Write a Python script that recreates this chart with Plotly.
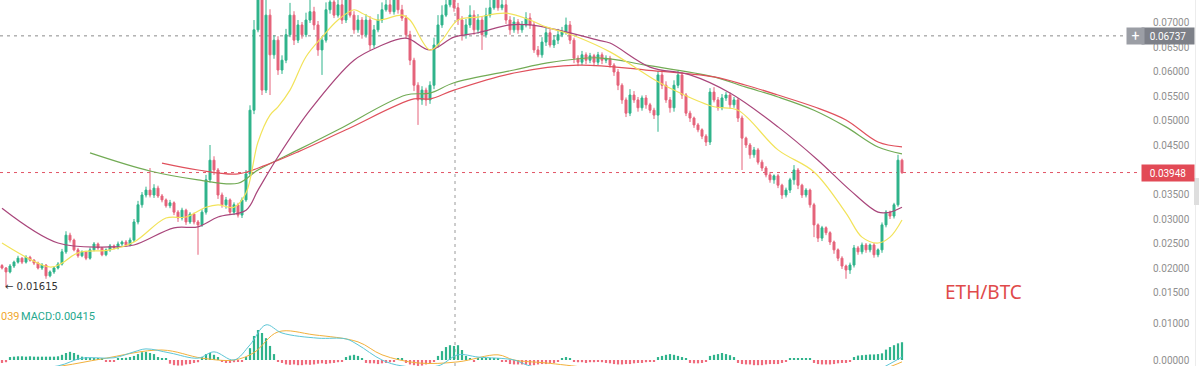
import plotly.graph_objects as go

# ---------------- data ----------------
closes = [
    0.0200, 0.0192, 0.0204, 0.0212, 0.0220, 0.0212, 0.0222, 0.0216, 0.0210, 0.0200,
    0.0206, 0.0184, 0.0192, 0.0200, 0.0208, 0.0233, 0.0267, 0.0257, 0.0237, 0.0225,
    0.0233, 0.0220, 0.0237, 0.0249, 0.0241, 0.0227, 0.0237, 0.0245, 0.0241, 0.0249,
    0.0253, 0.0247, 0.0257, 0.0294, 0.0329, 0.0349, 0.0359, 0.0349, 0.0363, 0.0347,
    0.0339, 0.0327, 0.0333, 0.0314, 0.0302, 0.0318, 0.0294, 0.0310, 0.0294, 0.0288,
    0.0314, 0.0380, 0.0420, 0.0400, 0.0349, 0.0329, 0.0339, 0.0314, 0.0329, 0.0308,
    0.0339, 0.0392, 0.0522, 0.0686, 0.0760, 0.0563, 0.0716, 0.0635, 0.0665, 0.0604,
    0.0624, 0.0676, 0.0716, 0.0665, 0.0696, 0.0676, 0.0706, 0.0723, 0.0696, 0.0645,
    0.0665, 0.0727, 0.0743, 0.0716, 0.0737, 0.0706, 0.0758, 0.0716, 0.0686, 0.0706,
    0.0676, 0.0706, 0.0655, 0.0686, 0.0706, 0.0727, 0.0737, 0.0723, 0.0752, 0.0727,
    0.0710, 0.0676, 0.0624, 0.0573, 0.0543, 0.0563, 0.0543, 0.0573, 0.0655, 0.0696,
    0.0716, 0.0737, 0.0762, 0.0731, 0.0706, 0.0676, 0.0696, 0.0716, 0.0686, 0.0706,
    0.0676, 0.0716, 0.0731, 0.0755, 0.0731, 0.0737, 0.0706, 0.0686, 0.0702, 0.0686,
    0.0696, 0.0710, 0.0696, 0.0645, 0.0635, 0.0661, 0.0680, 0.0655, 0.0665, 0.0676,
    0.0682, 0.0696, 0.0665, 0.0628, 0.0620, 0.0635, 0.0624, 0.0633, 0.0620, 0.0635,
    0.0624, 0.0628, 0.0614, 0.0600, 0.0573, 0.0543, 0.0516, 0.0553, 0.0543, 0.0527,
    0.0547, 0.0533, 0.0522, 0.0512, 0.0594, 0.0573, 0.0543, 0.0527, 0.0573, 0.0594,
    0.0553, 0.0516, 0.0506, 0.0492, 0.0482, 0.0469, 0.0457, 0.0559, 0.0543, 0.0527,
    0.0547, 0.0553, 0.0533, 0.0543, 0.0506, 0.0465, 0.0451, 0.0431, 0.0441, 0.0416,
    0.0404, 0.0390, 0.0380, 0.0388, 0.0369, 0.0349, 0.0359, 0.0380, 0.0400, 0.0369,
    0.0349, 0.0359, 0.0329, 0.0288, 0.0261, 0.0282, 0.0272, 0.0253, 0.0237, 0.0220,
    0.0204, 0.0196, 0.0206, 0.0241, 0.0233, 0.0247, 0.0237, 0.0247, 0.0227, 0.0237,
    0.0288, 0.0314, 0.0306, 0.0329, 0.0420, 0.03948,
]
first_open = 0.0205

# wick lengths above / below the body, in units of 0.0001
upper_e4 = [
    3, 2, 4, 3, 5, 2, 4, 3, 2, 3,
    4, 2, 3, 3, 4, 6, 8, 5, 3, 4,
    3, 2, 5, 4, 3, 2, 3, 4, 3, 5,
    3, 4, 5, 6, 8, 6, 7, 45, 8, 5,
    4, 3, 6, 3, 4, 5, 3, 4, 3, 4,
    6, 10, 31, 8, 4, 5, 6, 3, 5, 4,
    5, 8, 10, 20, 30, 10, 50, 12, 10, 8,
    10, 12, 25, 8, 10, 6, 15, 30, 10, 8,
    8, 15, 35, 10, 30, 12, 40, 15, 8, 10,
    6, 12, 8, 10, 12, 15, 30, 10, 35, 12,
    10, 6, 8, 5, 6, 8, 5, 8, 15, 20,
    20, 30, 40, 15, 10, 8, 12, 20, 10, 12,
    8, 15, 20, 30, 15, 25, 10, 8, 10, 6,
    8, 12, 10, 6, 8, 10, 12, 8, 10, 12,
    10, 15, 8, 5, 6, 8, 5, 6, 4, 6,
    5, 6, 5, 4, 6, 4, 5, 12, 8, 6,
    5, 6, 4, 5, 8, 10, 8, 6, 10, 8,
    6, 4, 5, 3, 4, 3, 4, 8, 10, 6,
    8, 6, 5, 6, 4, 5, 3, 4, 6, 4,
    5, 4, 6, 3, 4, 3, 5, 4, 10, 4,
    3, 4, 3, 4, 3, 4, 3, 3, 3, 3,
    4, 3, 5, 6, 4, 5, 4, 3, 4, 3,
    5, 4, 3, 4, 11, 3,
]
lower_e4 = [
    3, 31, 3, 4, 3, 4, 3, 3, 4, 3,
    4, 6, 3, 4, 3, 3, 4, 5, 3, 4,
    3, 4, 3, 3, 4, 3, 3, 4, 3, 3,
    4, 3, 3, 4, 5, 6, 5, 5, 6, 4,
    5, 4, 5, 6, 8, 5, 6, 4, 5, 61,
    4, 5, 6, 10, 8, 6, 8, 5, 6, 5,
    6, 4, 5, 8, 5, 10, 6, 82, 8, 10,
    8, 6, 5, 10, 6, 8, 5, 6, 10, 12,
    51, 5, 8, 6, 5, 8, 6, 5, 8, 6,
    8, 6, 10, 6, 5, 6, 4, 5, 6, 8,
    6, 8, 10, 12, 51, 10, 12, 8, 8, 5,
    6, 4, 5, 8, 10, 12, 8, 6, 10, 8,
    31, 6, 5, 4, 6, 5, 8, 10, 6, 8,
    6, 5, 8, 6, 5, 6, 8, 5, 6, 8,
    5, 6, 8, 10, 8, 6, 8, 6, 8, 6,
    8, 6, 5, 8, 10, 8, 8, 6, 6, 8,
    6, 8, 6, 8, 34, 8, 6, 10, 8, 6,
    8, 6, 8, 6, 5, 6, 8, 6, 5, 6,
    5, 6, 8, 6, 8, 65, 6, 8, 6, 5,
    6, 5, 6, 8, 6, 8, 5, 6, 10, 8,
    6, 5, 6, 25, 8, 6, 5, 6, 8, 6,
    6, 18, 8, 5, 6, 5, 6, 5, 6, 5,
    6, 5, 6, 5, 4, 3,
]

# moving averages (sampled along the curves)
ma_yellow_idx = [0, 12, 15, 19, 27, 33, 41, 46, 51, 54, 58, 61, 64, 67, 69, 72, 76, 80, 84, 88,
                 90, 94, 100, 102, 107, 110, 114, 119, 126, 132, 136, 140, 144, 152, 164, 169,
                 178, 184, 194, 203, 211, 215, 219, 222, 225]
ma_yellow_val = [0.0251, 0.0202, 0.0210, 0.0231, 0.0237, 0.0253, 0.0302, 0.0304, 0.0324, 0.0329,
                 0.0324, 0.0353, 0.0457, 0.0512, 0.0529, 0.0563, 0.0631, 0.0671, 0.0706, 0.0727,
                 0.0720, 0.0706, 0.0716, 0.0706, 0.0645, 0.0665, 0.0706, 0.0712, 0.0720, 0.0706,
                 0.0692, 0.0682, 0.0671, 0.0641, 0.0580, 0.0559, 0.0529, 0.0522, 0.0441, 0.0396,
                 0.0312, 0.0263, 0.0251, 0.0263, 0.0298]

ma_purple_idx = [0, 14, 27, 33, 43, 49, 54, 61, 64, 69, 77, 88, 94, 101, 107, 113, 119, 127,
                 132, 141, 149, 152, 162, 172, 182, 194, 204, 212, 219, 222, 225]
ma_purple_val = [0.0322, 0.0251, 0.0243, 0.0247, 0.0282, 0.0284, 0.0304, 0.0318, 0.0359, 0.0427,
                 0.0522, 0.0624, 0.0651, 0.0669, 0.0645, 0.0671, 0.0680, 0.0696, 0.0696, 0.0682,
                 0.0665, 0.0659, 0.0610, 0.0594, 0.0557, 0.0488, 0.0420, 0.0359, 0.0314, 0.0314,
                 0.0324]

ma_green_idx = [22, 37, 49, 59, 64, 74, 84, 101, 107, 113, 128, 136, 149, 161, 178, 186, 194,
                203, 211, 219, 225]
ma_green_val = [0.0435, 0.0398, 0.0380, 0.0373, 0.0400, 0.0441, 0.0482, 0.0553, 0.0557, 0.0578,
                0.0604, 0.0618, 0.0629, 0.0614, 0.0590, 0.0569, 0.0549, 0.0522, 0.0488, 0.0447,
                0.0433]

ma_red_idx = [40, 49, 59, 66, 74, 86, 103, 107, 113, 128, 144, 161, 178, 186, 194, 203, 211,
              219, 225]
ma_red_val = [0.0414, 0.0400, 0.0392, 0.0410, 0.0437, 0.0482, 0.0545, 0.0545, 0.0563, 0.0598,
              0.0614, 0.0604, 0.0590, 0.0573, 0.0553, 0.0529, 0.0502, 0.0457, 0.0447]

# MACD histogram, units of 0.0001
macd_hist_e4 = [
    -8, -6, 8, 9, 10, 10, 9, 10, 9, 9,
    9, 9, 9, 9, 10, 14, 19, 22, 19, 14,
    9, 8, 6, 5, 5, 3, -3, -3, -3, 3,
    5, 6, 8, 11, 16, 21, 22, 19, 16, 8,
    5, 3, -10, -14, -15, -15, -12, -11, -8, -6,
    8, 16, 19, 14, 8, -5, -8, -8, -6, -5,
    -3, 8, 32, 65, 81, 73, 59, 38, 16, -5,
    -8, -12, -13, -12, -14, -14, -12, -13, -12, -10,
    -9, -11, -9, -8, -6, -5, 8, 12, 14, 11,
    5, -8, -9, -9, -11, -9, -8, -6, -5, 3,
    3, -8, -12, -14, -16, -15, -12, -9, -5, 11,
    24, 35, 40, 38, 40, 27, 11, 5, -3, 3,
    3, 5, 3, 3, 3, -3, -3, -11, -12, -12,
    -12, -13, -14, -14, -12, -11, -11, -9, -8, -5,
    5, 8, 5, -5, -6, -6, -8, -6, -6, -5,
    -6, -8, -9, -11, -12, -12, -11, -11, -9, -8,
    -8, -6, -5, -3, 8, 11, 14, 16, 14, 11,
    8, 5, -8, -9, -9, -8, -5, 11, 14, 16,
    19, 16, 13, 8, -8, -11, -12, -12, -14, -14,
    -14, -12, -11, -11, -11, -8, -5, 3, 5, 5,
    3, 3, 3, -8, -11, -12, -12, -12, -11, -9,
    -8, -8, -5, 8, 12, 13, 14, 15, 15, 16,
    18, 28, 35, 40, 45, 48,
]

dif_idx = [0, 14, 20, 28, 33, 36, 42, 49, 53, 58, 62, 66, 70, 79, 86, 89, 95, 100, 109, 114,
           119, 128, 132, 150, 170, 190, 205, 215, 221, 225]
dif_val = [-0.0030, -0.0016, 0.0005, 0.0006, 0.0022, 0.0030, 0.0019, 0.0005, 0.0022, 0.0000,
           0.0041, 0.0095, 0.0073, 0.0059, 0.0057, 0.0041, 0.0000, -0.0016, -0.0016, 0.0014,
           0.0008, 0.0000, -0.0016, -0.0040, -0.0035, -0.0050, -0.0070, -0.0050, -0.0016, 0.0008]

dea_idx = [0, 15, 25, 40, 50, 58, 63, 69, 78, 89, 95, 104, 114, 124, 128, 136, 160, 190, 210,
           223, 225]
dea_val = [-0.0035, -0.0016, 0.0003, 0.0027, 0.0005, 0.0000, 0.0020, 0.0076, 0.0068, 0.0049,
           0.0014, -0.0008, -0.0005, 0.0014, 0.0000, -0.0008, -0.0035, -0.0045, -0.0060,
           -0.0014, -0.0005]

# 0.04000 sits under the last-price box in the reference, so it is not shown
price_ticks = [0.015, 0.020, 0.025, 0.030, 0.035, 0.045, 0.050, 0.055, 0.060, 0.065, 0.070, 0.075]
macd_ticks = [0.0, 0.01]
last_price = 0.03948
marked_price = 0.06737
low_price = 0.01615
crosshair_idx = 113.25

# ---------------- styling ----------------
GREEN = "#2fb38b"
RED = "#e5637a"
W, H = 1199, 366
PLOT_W = 1140
SPLIT = 61 / 366

opens = [first_open] + closes[:-1]
highs = [max(o, c) + u / 1e4 for o, c, u in zip(opens, closes, upper_e4)]
lows = [min(o, c) - l / 1e4 for o, c, l in zip(opens, closes, lower_e4)]
idx = list(range(len(closes)))
hist = [v / 1e4 for v in macd_hist_e4]

fig = go.Figure()

fig.add_trace(go.Candlestick(
    x=idx, open=opens, high=highs, low=lows, close=closes,
    increasing=dict(line=dict(color=GREEN, width=1), fillcolor=GREEN),
    decreasing=dict(line=dict(color=RED, width=1), fillcolor=RED),
    whiskerwidth=0, hoverinfo="skip", xaxis="x", yaxis="y"))

for xs, ys, col in [
    (ma_green_idx, ma_green_val, "#72ab55"),
    (ma_red_idx, ma_red_val, "#e0505c"),
    (ma_purple_idx, ma_purple_val, "#a9467b"),
    (ma_yellow_idx, ma_yellow_val, "#f2e35a"),
]:
    fig.add_trace(go.Scatter(x=xs, y=ys, mode="lines", hoverinfo="skip",
                             line=dict(color=col, width=1.2, shape="spline", smoothing=1.0),
                             xaxis="x", yaxis="y"))

fig.add_trace(go.Bar(x=idx, y=hist, width=0.55, hoverinfo="skip",
                     marker=dict(color=[GREEN if v >= 0 else "#ef6b7c" for v in hist], line=dict(width=0)),
                     xaxis="x", yaxis="y2"))
fig.add_trace(go.Scatter(x=dea_idx, y=dea_val, mode="lines", hoverinfo="skip",
                         line=dict(color="#f2b13c", width=1, shape="spline", smoothing=1.0),
                         xaxis="x", yaxis="y2"))
fig.add_trace(go.Scatter(x=dif_idx, y=dif_val, mode="lines", hoverinfo="skip",
                         line=dict(color="#5cc6d6", width=1, shape="spline", smoothing=1.0),
                         xaxis="x", yaxis="y2"))

tickfont = dict(size=10, color="#8f8f8f", family="Roboto")

fig.update_layout(
    width=W, height=H, margin=dict(l=0, r=W - PLOT_W, t=0, b=0),
    paper_bgcolor="white", plot_bgcolor="white", showlegend=False, hovermode=False,
    xaxis=dict(range=[-0.5, 284.5], showgrid=False, zeroline=False, showticklabels=False,
               showline=False, ticks="", rangeslider=dict(visible=False), fixedrange=True),
    yaxis=dict(domain=[SPLIT, 1], range=[0.01245, 0.07469], side="right", anchor="x",
               tickvals=price_ticks, ticktext=[f"{v:.5f}" for v in price_ticks],
               showgrid=False, zeroline=False, showline=False, ticks="",
               tickfont=tickfont, ticklabelstandoff=12, ticklabeloverflow="allow"),
    yaxis2=dict(domain=[0, SPLIT], range=[-0.001622, 0.014865], side="right", anchor="x",
                tickvals=macd_ticks, ticktext=[f"{v:.5f}" for v in macd_ticks],
                showgrid=False, zeroline=False, showline=False, ticks="",
                tickfont=tickfont, ticklabelstandoff=12, ticklabeloverflow="allow"),
)

shapes = [
    dict(type="line", xref="paper", yref="y", x0=0, x1=1127 / PLOT_W, y0=marked_price, y1=marked_price,
         line=dict(color="#8a8a8a", width=1, dash="3px,4px"), layer="below"),
    dict(type="line", xref="paper", yref="y", x0=0, x1=1, y0=last_price, y1=last_price,
         line=dict(color="#e25566", width=1, dash="3px,4px"), layer="below"),
    dict(type="line", xref="x", yref="paper", x0=crosshair_idx, x1=crosshair_idx, y0=0, y1=1,
         line=dict(color="#9a9a9a", width=1, dash="3px,4px"), layer="below"),
    dict(type="line", xref="paper", yref="paper", x0=1195.5 / PLOT_W, x1=1195.5 / PLOT_W, y0=0, y1=1,
         line=dict(color="#ececec", width=1)),
    dict(type="rect", xref="paper", yref="paper", x0=1194 / PLOT_W, x1=1199 / PLOT_W,
         y0=(H - 205) / H, y1=(H - 178) / H, fillcolor="#dedede", line=dict(width=0)),
]
fig.update_layout(shapes=shapes)

annotations = [
    dict(xref="paper", yref="y", x=1168 / PLOT_W, y=marked_price, text=f"{marked_price:.5f}",
         showarrow=False, xanchor="center", yanchor="middle", width=50, height=14,
         bgcolor="#7d8088", font=dict(size=10, color="white", family="Roboto")),
    dict(xref="paper", yref="y", x=1135 / PLOT_W, y=marked_price, text="+",
         showarrow=False, xanchor="center", yanchor="middle", width=15, height=14,
         bgcolor="#9b9ea5", font=dict(size=14, color="white", family="Roboto")),
    dict(xref="paper", yref="y", x=1168 / PLOT_W, y=last_price, text=f"{last_price:.5f}",
         showarrow=False, xanchor="center", yanchor="middle", width=50, height=14,
         bgcolor="#e24a56", font=dict(size=10, color="white", family="Roboto")),
    dict(xref="paper", yref="y", x=3 / PLOT_W, y=low_price, text=f"← {low_price:.5f}",
         showarrow=False, xanchor="left", yanchor="middle",
         font=dict(size=10, color="#333333", family="DejaVu Sans")),
    dict(xref="paper", yref="y", x=983 / PLOT_W, y=0.0151, text="ETH/BTC",
         showarrow=False, xanchor="center", yanchor="middle",
         font=dict(size=19, color="#e04a4a", family="Noto Sans")),
    dict(xref="paper", yref="paper", x=-1 / PLOT_W, y=(H - 316) / H, text="039",
         showarrow=False, xanchor="left", yanchor="middle",
         font=dict(size=11, color="#f0a830", family="Roboto")),
    dict(xref="paper", yref="paper", x=19 / PLOT_W, y=(H - 316) / H, text="MACD:0.00415",
         showarrow=False, xanchor="left", yanchor="middle",
         font=dict(size=11, color="#26a88e", family="Roboto")),
]
fig.update_layout(annotations=annotations)

fig.write_html("out.html", config={"displayModeBar": False},
               post_script="document.body.style.margin='0px';")
